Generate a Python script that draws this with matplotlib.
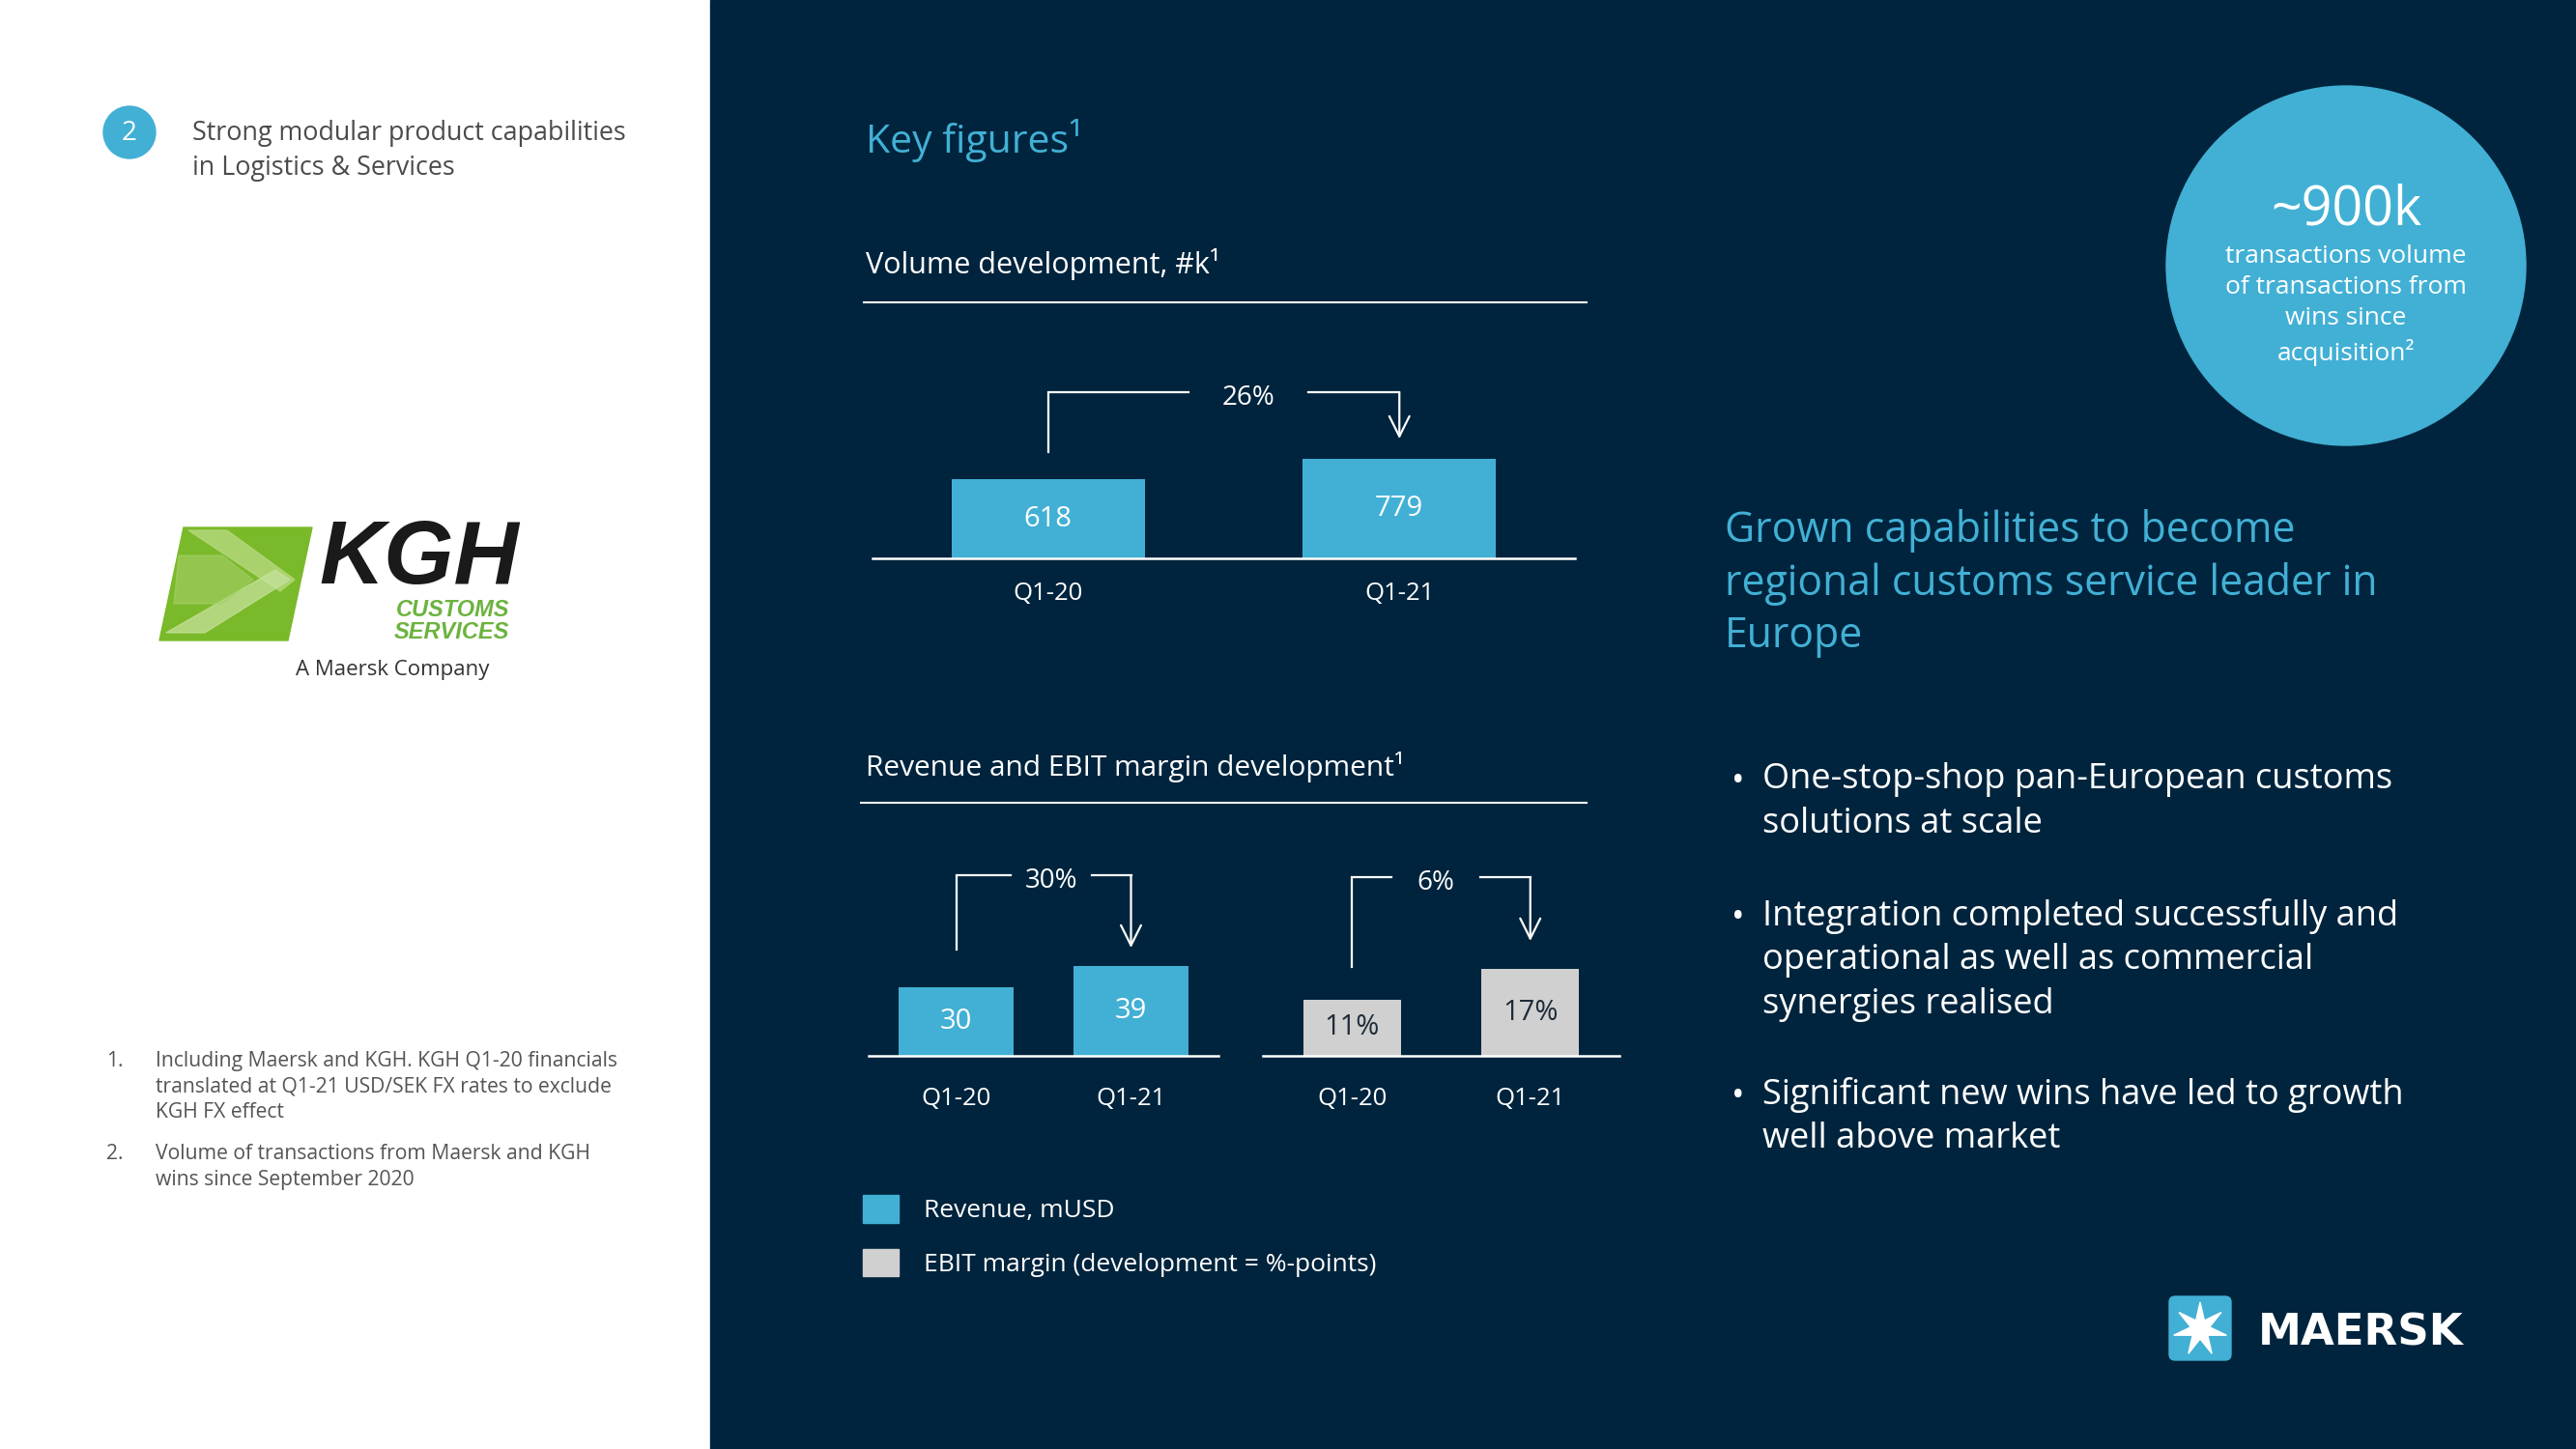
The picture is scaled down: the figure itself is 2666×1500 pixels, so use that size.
import numpy as np
import matplotlib
matplotlib.use('Agg')
import matplotlib.pyplot as plt
from matplotlib.patches import Rectangle, Circle, Polygon, FancyBboxPatch, Patch

plt.rcParams['font.family'] = ['Open Sans', 'DejaVu Sans']

# data
periods = ['Q1-20', 'Q1-21']
volume_k = [618, 779]
revenue_musd = [30, 39]
ebit_margin_pct = [11, 17]
volume_growth = '26%'
revenue_growth = '30%'
ebit_change = '6%'
legend_labels = ['Revenue, mUSD', 'EBIT margin (development = %-points)']
bullets = ['One-stop-shop pan-European customs\nsolutions at scale',
           'Integration completed successfully and\noperational as well as commercial\nsynergies realised',
           'Significant new wins have led to growth\nwell above market']
footnotes = ['Including Maersk and KGH. KGH Q1-20 financials\ntranslated at Q1-21 USD/SEK FX rates to exclude\nKGH FX effect',
             'Volume of transactions from Maersk and KGH\nwins since September 2020']

navy = '#00243D'
blue = '#42B0D5'
grey = '#D0D0D0'

W, H = 2666, 1500
fig = plt.figure(figsize=(26.66, 15), dpi=100)
fig.patch.set_facecolor('white')

# background layer in pixel coordinates
bg = fig.add_axes([0, 0, 1, 1])
bg.set_xlim(0, W)
bg.set_ylim(H, 0)
bg.axis('off')
bg.add_patch(Rectangle((735, 0), W - 735, H, color=navy, zorder=0))

# left panel
bg.add_patch(Circle((134, 137), 27, color=blue))
bg.text(134, 138, '2', color='white', fontsize=20, ha='center', va='center')
bg.text(199, 156, 'Strong modular product capabilities\nin Logistics & Services', color='#4B4B4B',
        fontsize=19.4, ha='left', va='center', linespacing=1.4)

# KGH logo
bg.add_patch(Polygon([(190, 546), (323, 546), (298, 663), (165, 663)], color='#7AB929'))
bg.add_patch(Polygon([(195, 549), (235, 549), (305, 600), (290, 612)], color='#B6D97F', alpha=0.8))
bg.add_patch(Polygon([(172, 655), (212, 655), (300, 600), (285, 590)], color='#C9E3A0', alpha=0.7))
bg.add_patch(Polygon([(185, 575), (230, 575), (262, 600), (230, 625), (180, 625)], color='#A7D06A', alpha=0.6))
bg.text(434, 580, 'KGH', family='Liberation Sans', fontweight='bold', style='italic',
        fontsize=67, color='#1A1A1A', ha='center', va='center')
bg.text(527, 643, 'CUSTOMS\nSERVICES', family='Liberation Sans', fontweight='bold', style='italic',
        fontsize=17, color='#6DB33F', ha='right', va='center', linespacing=1.0)
bg.text(406, 694, 'A Maersk Company', fontsize=16, color='#333333', ha='center', va='center')

# footnotes
for i, (fn, yc) in enumerate(zip(footnotes, [1125, 1208])):
    first = yc - fn.count('\n') * 27 / 2
    bg.text(110, first, f'{i + 1}.', fontsize=15.2, color='#555555', ha='left', va='center')
    bg.text(161, yc, fn, fontsize=15.2, color='#555555', ha='left', va='center', linespacing=1.37)

# titles
bg.text(896, 145, 'Key figures\u00b9', fontsize=29.5, color=blue, ha='left', va='center')
bg.text(896, 274, 'Volume development, #k\u00b9', fontsize=22, color='white', ha='left', va='center')
bg.plot([894, 1642], [313, 313], color='white', lw=1.5)
bg.text(896, 794, 'Revenue and EBIT margin development\u00b9', fontsize=21.5, color='white',
        ha='left', va='center')
bg.plot([891, 1642], [831, 831], color='white', lw=1.5)

# circle callout
bg.add_patch(Circle((2428, 275), 186, color=blue))
bg.text(2428, 218, '~900k', fontsize=40, color='white', ha='center', va='center')
bg.text(2428, 316, 'transactions volume\nof transactions from\nwins since\nacquisition\u00b2',
        fontsize=19, color='white', ha='center', va='center', linespacing=1.37)

# right text
bg.text(1785, 604, 'Grown capabilities to become\nregional customs service leader in\nEurope',
        fontsize=30.8, color=blue, ha='left', va='center', linespacing=1.3)
for txt, yc in zip(bullets, [830, 994, 1156]):
    n = txt.count('\n')
    bg.text(1792, yc - n * 46 / 2 + 3, '\u2022', fontsize=26, color='white', ha='left', va='center')
    bg.text(1824, yc, txt, fontsize=26, color='white', ha='left', va='center', linespacing=1.37)

# maersk logo
bg.add_patch(FancyBboxPatch((2245, 1342), 64, 66, boxstyle='round,pad=0,rounding_size=6',
                            color=blue))
ang = np.pi / 2 + np.arange(14) * np.pi / 7
rad = np.where(np.arange(14) % 2 == 0, 28, 10)
star = np.column_stack([2277 + rad * np.cos(ang), 1376 - rad * np.sin(ang)])
bg.add_patch(Polygon(star, color='white'))
bg.text(2337, 1380, 'MAERSK', fontsize=32.5, fontweight='bold', family='DejaVu Sans',
        color='white', ha='left', va='center')


def chart_axes(left, right, baseline, height, ytop, pad):
    ax = fig.add_axes([left / W, 1 - baseline / H, (right - left) / W, height / H])
    ax.set_xlim(-0.5, 1.5)
    ax.set_ylim(0, ytop)
    ax.patch.set_alpha(0)
    for s in ax.spines.values():
        s.set_visible(False)
    ax.axhline(0, color='white', lw=1.8, clip_on=False)
    ax.set_yticks([])
    ax.set_xticks([0, 1], periods)
    ax.tick_params(axis='x', length=0, colors='white', labelsize=18.5, pad=pad)
    return ax


def bracket(ax, vals, label, label_x, half_gap, top_px, gap_l, gap_r, height_px):
    k = ax.get_ylim()[1] / height_px
    y_top = top_px * k
    y0 = vals[0] + gap_l * k
    y1 = vals[1] + gap_r * k
    ax.plot([0, 0, label_x - half_gap], [y0, y_top, y_top], color='white', lw=1.6,
            solid_joinstyle='miter')
    ax.plot([label_x + half_gap, 1], [y_top, y_top], color='white', lw=1.6)
    ax.annotate('', xy=(1, y1), xytext=(1, y_top),
                arrowprops=dict(arrowstyle='->,head_width=0.3,head_length=0.6', color='white',
                                lw=1.6, shrinkA=0, shrinkB=0, mutation_scale=25))
    ax.text(label_x, y_top - 6 * k, label, ha='center', va='center', color='white', fontsize=20)


# volume chart
ax1 = chart_axes(903, 1630, 578, 198, 1500, 17)
b = ax1.bar([0, 1], volume_k, width=0.55, color=blue)
ax1.bar_label(b, labels=[str(v) for v in volume_k], label_type='center', color='white', fontsize=21)
bracket(ax1, volume_k, volume_growth, 0.57, 0.17, 172, 28, 21, 198)

# revenue chart
ax2 = chart_axes(899, 1261, 1093, 200, 84, 23)
b = ax2.bar([0, 1], revenue_musd, width=0.66, color=blue)
ax2.bar_label(b, labels=[str(v) for v in revenue_musd], label_type='center', color='white', fontsize=21)
bracket(ax2, revenue_musd, revenue_growth, 0.544, 0.23, 187, 39, 19, 200)

# ebit chart
ax3 = chart_axes(1307, 1676, 1093, 200, 37.8, 23)
b = ax3.bar([0, 1], ebit_margin_pct, width=0.55, color=grey)
ax3.bar_label(b, labels=[f'{v}%' for v in ebit_margin_pct], label_type='center', color='#1E2B38',
              fontsize=21)
bracket(ax3, ebit_margin_pct, ebit_change, 0.47, 0.25, 185, 34, 29, 200)

fig.legend([Patch(color=blue), Patch(color=grey)], legend_labels, loc='upper left',
           bbox_to_anchor=(893 / W, 1 - 1237 / H), frameon=False, labelcolor='white',
           fontsize=19, handlelength=1.4, handleheight=1.3, handletextpad=1.0,
           labelspacing=1.0, borderpad=0, borderaxespad=0)

fig.savefig('out.png', dpi=100, facecolor=fig.get_facecolor())
